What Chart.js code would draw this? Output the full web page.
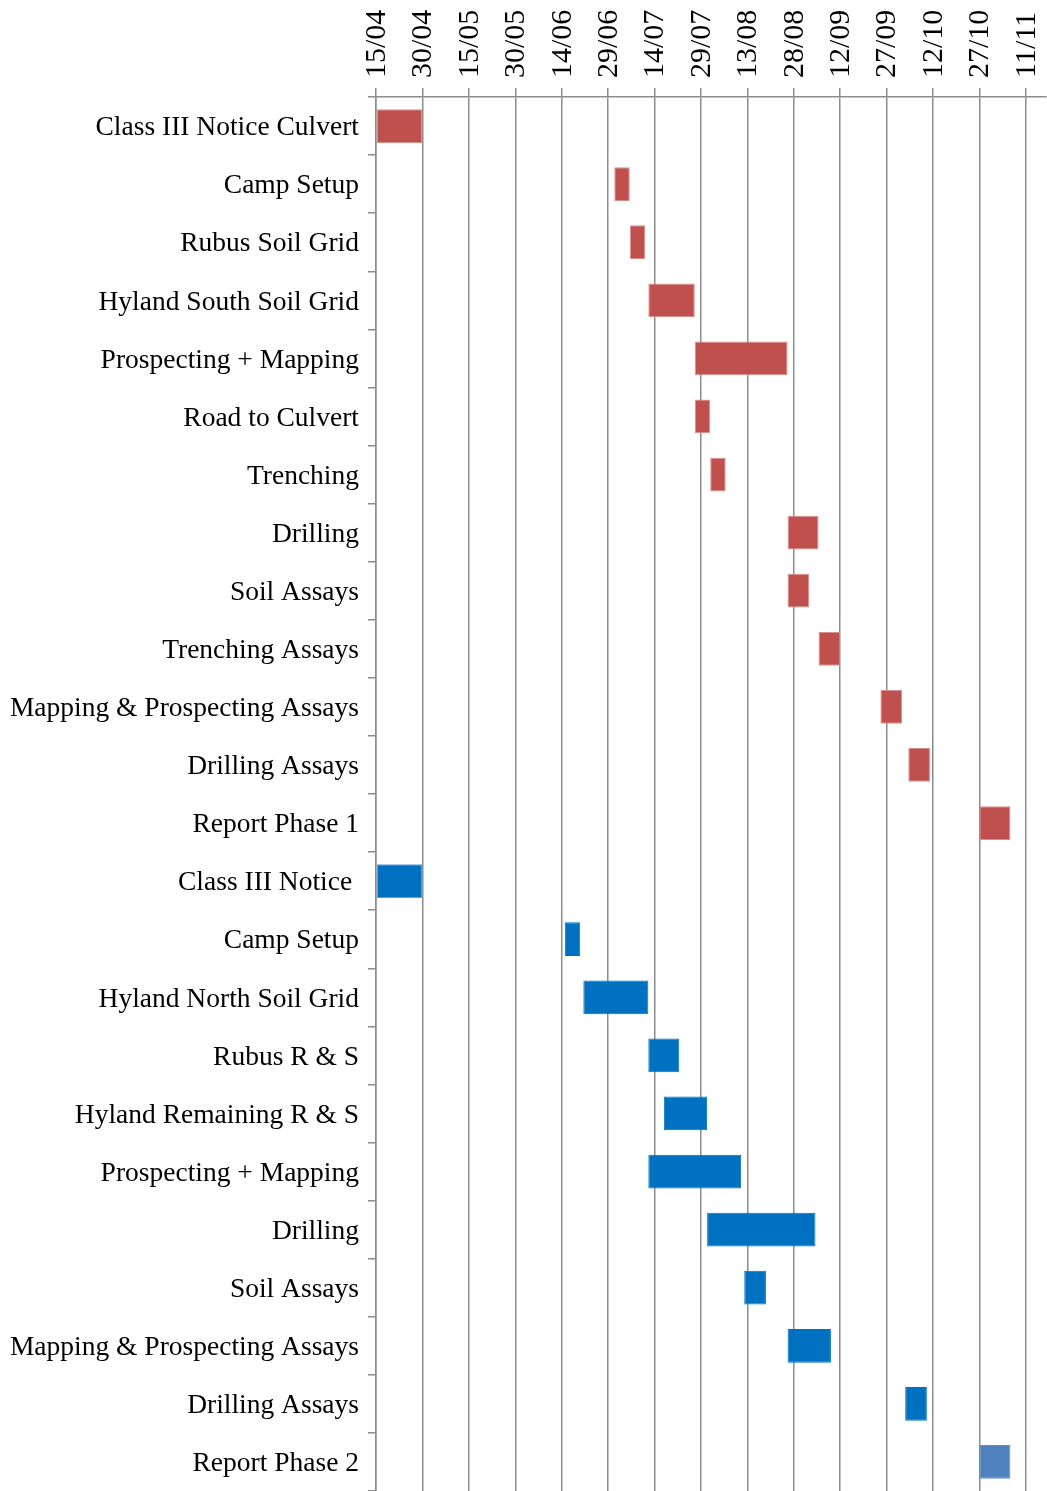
<!DOCTYPE html>
<html>
<head>
<meta charset="utf-8">
<script src="https://cdn.jsdelivr.net/npm/chart.js@4.4.1/dist/chart.umd.min.js"></script>
<style>
  html, body { margin: 0; padding: 0; background: #fff; }
  #wrap { width: 1047px; height: 1491px; }
</style>
</head>
<body>
<div id="wrap"><canvas id="gantt"></canvas></div>
<script>
// task names, top to bottom (phase 1 then phase 2)
const tasks = [
  'Class III Notice Culvert', 'Camp Setup', 'Rubus Soil Grid', 'Hyland South Soil Grid',
  'Prospecting + Mapping', 'Road to Culvert', 'Trenching', 'Drilling', 'Soil Assays',
  'Trenching Assays', 'Mapping & Prospecting Assays', 'Drilling Assays', 'Report Phase 1',
  'Class III Notice ', 'Camp Setup', 'Hyland North Soil Grid', 'Rubus R & S',
  'Hyland Remaining R & S', 'Prospecting + Mapping', 'Drilling', 'Soil Assays',
  'Mapping & Prospecting Assays', 'Drilling Assays', 'Report Phase 2'
];
// days counted from 15/04
const startDay = [0, 77, 82, 88, 103, 103, 108, 133, 133, 143, 163, 172, 195,
                  0, 61, 67, 88, 93, 88, 107, 119, 133, 171, 195];
const endDay   = [15, 82, 87, 103, 133, 108, 113, 143, 140, 150, 170, 179, 205,
                  15, 66, 88, 98, 107, 118, 142, 126, 147, 178, 205];
const phase    = [1, 1, 1, 1, 1, 1, 1, 1, 1, 1, 1, 1, 1,
                  2, 2, 2, 2, 2, 2, 2, 2, 2, 2, 3];
const tickLabels = ['15/04', '30/04', '15/05', '30/05', '14/06', '29/06', '14/07', '29/07',
                    '13/08', '28/08', '12/09', '27/09', '12/10', '27/10', '11/11'];

const fillFor = { 1: '#C0504D', 2: '#0070C0', 3: '#4F81BD' };
const edgeFor = { 1: '#D98E8C', 2: '#0070C0', 3: '#5B8DCB' };
const fills = phase.map(p => fillFor[p]);
const edges = phase.map((p, i) => (i === 13 ? '#5E9DDB' : edgeFor[p]));

const gridGrey = '#8C8C8C';
const labelFont = { family: '"Liberation Serif", serif', size: 27.5 };

new Chart(document.getElementById('gantt'), {
  type: 'bar',
  data: {
    labels: tasks,
    datasets: [{
      data: startDay.map((s, i) => [s, endDay[i]]),
      backgroundColor: fills,
      borderColor: edges,
      borderWidth: 1,
      borderSkipped: false,
      barPercentage: 0.58,
      categoryPercentage: 1
    }]
  },
  options: {
    indexAxis: 'y',
    responsive: true,
    maintainAspectRatio: false,
    animation: false,
    layout: { padding: { right: 1 } },
    plugins: { legend: { display: false }, tooltip: { enabled: false } },
    scales: {
      x: {
        position: 'top',
        min: 0,
        max: 216.5,
        afterFit: s => { s.height = 97; },
        afterBuildTicks: s => { s.ticks = tickLabels.map((t, i) => ({ value: i * 15 })); },
        ticks: {
          autoSkip: false,
          minRotation: 90,
          maxRotation: 90,
          padding: 10,
          labelOffset: 37,
          color: '#000',
          font: { family: '"Liberation Serif", serif', size: 30 },
          callback: (v, i) => tickLabels[i]
        },
        grid: { color: gridGrey, lineWidth: 1.5, tickLength: 9 },
        border: { color: gridGrey, width: 1.5 }
      },
      y: {
        afterFit: s => {
          s.width = 376;
          s.paddingTop = 0;
          s.paddingBottom = 0;
        },
        ticks: { padding: 9, labelOffset: 2, color: '#000', font: labelFont },
        grid: { drawOnChartArea: false, color: gridGrey, lineWidth: 1.5, tickLength: 8 },
        border: { color: gridGrey, width: 1.5 }
      }
    }
  }
});
</script>
</body>
</html>
